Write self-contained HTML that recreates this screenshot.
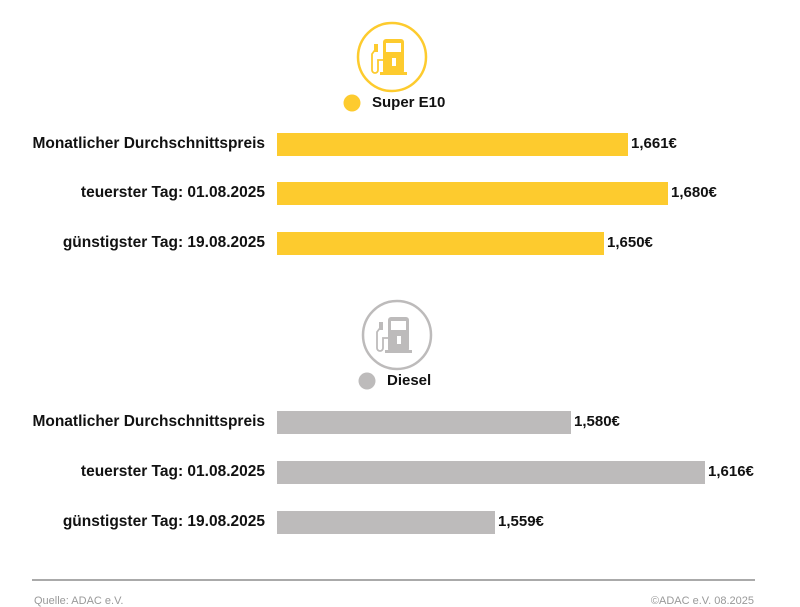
<!DOCTYPE html>
<html><head><meta charset="utf-8"><style>
body{margin:0;width:800px;height:600px;background:#fff;position:relative;overflow:hidden;font-family:"Liberation Sans",sans-serif;}
.l{position:absolute;right:535px;font-weight:bold;font-size:15.5px;color:#111;line-height:22px;white-space:nowrap}
.b{position:absolute;left:277px;height:23px}
.v{position:absolute;font-weight:bold;font-size:15px;color:#111;line-height:22px}
.y{background:#FDCB2E}.g{background:#BDBBBB}
</style></head><body>
<svg width="800" height="600" style="position:absolute;left:0;top:0">
<circle cx="392" cy="57" r="34" fill="none" stroke="#FDCB2E" stroke-width="2.5"/>
<g fill="#FDCB2E"><rect x="383" y="39" width="21" height="35" rx="3"/><rect x="380" y="72" width="27" height="3"/></g>
<rect x="386" y="43" width="15" height="9" fill="#fff"/><rect x="392" y="58" width="4" height="8" fill="#fff"/>
<path d="M383 60 h-5 v10 a3 3 0 0 1 -6 0 v-16 l3 -4 v-5" fill="none" stroke="#FDCB2E" stroke-width="1.8"/>
<rect x="374" y="44" width="4" height="8" fill="#FDCB2E"/>
<circle cx="352" cy="103" r="8.5" fill="#FDCB2E"/>
<circle cx="397" cy="335" r="34" fill="none" stroke="#BDBBBB" stroke-width="2.5"/>
<g fill="#BDBBBB"><rect x="388" y="317" width="21" height="35" rx="3"/><rect x="385" y="350" width="27" height="3"/></g>
<rect x="391" y="321" width="15" height="9" fill="#fff"/><rect x="397" y="336" width="4" height="8" fill="#fff"/>
<path d="M388 338 h-5 v10 a3 3 0 0 1 -6 0 v-16 l3 -4 v-5" fill="none" stroke="#BDBBBB" stroke-width="1.8"/>
<rect x="379" y="322" width="4" height="8" fill="#BDBBBB"/>
<circle cx="367" cy="381" r="8.5" fill="#BDBBBB"/>
<rect x="32" y="579" width="723" height="2" fill="#aaa"/>
</svg>
<div class="v" style="left:372px;top:92px">Super E10</div>
<div class="v" style="left:387px;top:370px">Diesel</div>

<div class="l" style="top:133px">Monatlicher Durchschnittspreis</div>
<div class="b y" style="top:133px;width:351px"></div><div class="v" style="left:631px;top:133px">1,661€</div>
<div class="l" style="top:182px">teuerster Tag: 01.08.2025</div>
<div class="b y" style="top:182px;width:391px"></div><div class="v" style="left:671px;top:182px">1,680€</div>
<div class="l" style="top:232px">günstigster Tag: 19.08.2025</div>
<div class="b y" style="top:232px;width:327px"></div><div class="v" style="left:607px;top:232px">1,650€</div>

<div class="l" style="top:411px">Monatlicher Durchschnittspreis</div>
<div class="b g" style="top:411px;width:294px"></div><div class="v" style="left:574px;top:411px">1,580€</div>
<div class="l" style="top:461px">teuerster Tag: 01.08.2025</div>
<div class="b g" style="top:461px;width:428px"></div><div class="v" style="left:708px;top:461px">1,616€</div>
<div class="l" style="top:511px">günstigster Tag: 19.08.2025</div>
<div class="b g" style="top:511px;width:218px"></div><div class="v" style="left:498px;top:511px">1,559€</div>

<div style="position:absolute;left:34px;top:595px;font-size:11px;color:#999">Quelle: ADAC e.V.</div>
<div style="position:absolute;right:46px;top:595px;font-size:11px;color:#999">©ADAC e.V. 08.2025</div>
</body></html>
